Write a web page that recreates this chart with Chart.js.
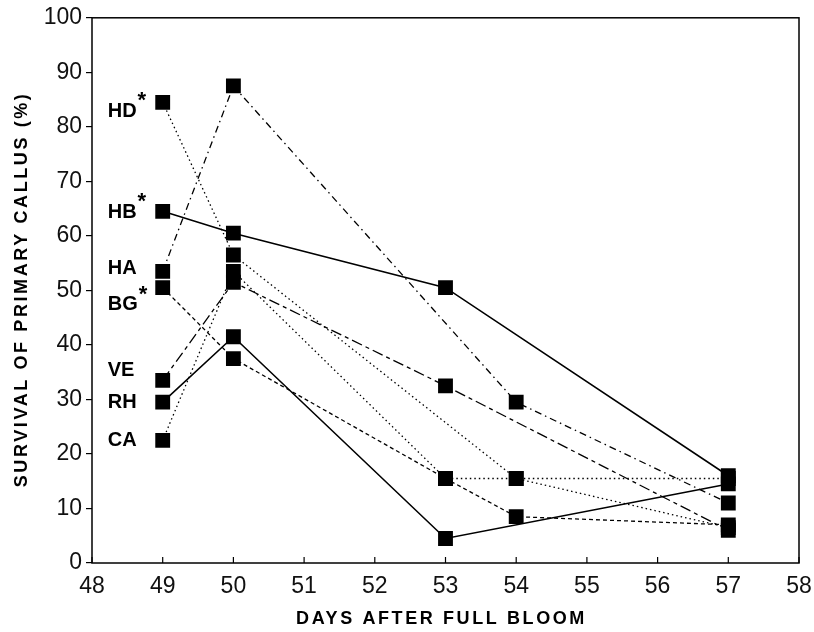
<!DOCTYPE html>
<html>
<head>
<meta charset="utf-8">
<script src="https://cdn.jsdelivr.net/npm/chart.js@4.4.1/dist/chart.umd.min.js"></script>
<style>
  html, body { margin: 0; padding: 0; background: #fff; }
  #wrap { width: 814px; height: 632px; }
</style>
</head>
<body>
<div id="wrap"><canvas id="callusChart" width="814" height="632"></canvas></div>
<script>
// days after full bloom at which survival was scored
const days = [49, 50, 53, 54, 57];
const seriesNames = ["HD", "HB", "HA", "BG", "VE", "RH", "CA"];
const starred = [true, true, false, true, false, false, false];

// survival of primary callus (%), null = not scored that day
const hdValues = [84.5, 56.5, null, 15.5, 6.5];
const hbValues = [64.5, 60.5, 50.5, null, 16];
const haValues = [53.5, 87.5, null, 29.5, 11];
const bgValues = [50.5, 37.5, 15.5, 8.5, 7];
const veValues = [33.5, 51.5, 32.5, null, 6];
const rhValues = [29.5, 41.5, 4.5, null, 14.5];
const caValues = [22.5, 53.5, 15.5, 15.5, 15.5];

const xTicks = [48, 49, 50, 51, 52, 53, 54, 55, 56, 57, 58];
const yTicks = [0, 10, 20, 30, 40, 50, 60, 70, 80, 90, 100];

const allValues = [hdValues, hbValues, haValues, bgValues, veValues, rhValues, caValues];
const dashes = [
    [1.5, 3],          // HD dotted
    [],                // HB solid
    [7, 4, 1.5, 4],    // HA dash-dot
    [4, 3],            // BG short dash
    [11, 4, 4, 4],     // VE long-short dash
    [],                // RH solid
    [1.5, 3]           // CA dotted
];
// vertical shift of each name label relative to its first marker
const labelShift = [9, 1, -3, 17, -10, 0, 0];

const datasets = allValues.map((vals, i) => ({
    label: seriesNames[i],
    data: days.map((d, j) => ({ x: d, y: vals[j] })),
    borderColor: "#000",
    borderWidth: dashes[i].length ? 1.3 : 1.6,
    borderDash: dashes[i],
    backgroundColor: "#000",
    pointStyle: "rect",
    pointRadius: 10.5,
    pointBorderWidth: 0,
    pointBackgroundColor: "#000",
    spanGaps: true,
    tension: 0
}));

const callusDecor = {
    id: "callusDecor",
    afterDatasetsDraw(chart) {
        const ctx = chart.ctx;
        ctx.save();
        ctx.fillStyle = "#000";
        chart.data.datasets.forEach((ds, i) => {
            const pt = chart.getDatasetMeta(i).data[0];
            const tx = pt.x - 55;
            const ty = pt.y + labelShift[i];
            ctx.font = "bold 20px 'Liberation Sans', Arial, sans-serif";
            ctx.textAlign = "left";
            ctx.textBaseline = "middle";
            ctx.fillText(ds.label, tx, ty);
            if (starred[i]) {
                const w = ctx.measureText(ds.label).width;
                ctx.font = "bold 22px 'Liberation Sans', Arial, sans-serif";
                ctx.textBaseline = "alphabetic";
                ctx.fillText("*", tx + w + 1, ty - 4);
            }
        });
        ctx.restore();
    },
    afterDraw(chart) {
        const { ctx, chartArea: a, scales } = chart;
        ctx.save();
        ctx.strokeStyle = "#000";
        ctx.lineWidth = 1.5;
        ctx.strokeRect(a.left, a.top, a.right - a.left, a.bottom - a.top);

        // inward ticks on the day axis
        ctx.lineWidth = 1.2;
        scales.x.ticks.forEach(t => {
            const px = scales.x.getPixelForValue(t.value);
            ctx.beginPath();
            ctx.moveTo(px, a.bottom);
            ctx.lineTo(px, a.bottom - 6);
            ctx.stroke();
        });

        // axis titles, spaced out like the original
        ctx.fillStyle = "#000";
        ctx.font = "bold 18px 'Liberation Sans', Arial, sans-serif";
        ctx.letterSpacing = "2.6px";
        ctx.textAlign = "center";
        ctx.textBaseline = "middle";
        ctx.fillText("DAYS AFTER FULL BLOOM", (a.left + a.right) / 2 - 4, 619);

        ctx.translate(22, (a.top + a.bottom) / 2);
        ctx.rotate(-Math.PI / 2);
        ctx.fillText("SURVIVAL OF PRIMARY CALLUS (%)", 1, 0);
        ctx.restore();
    }
};

new Chart(document.getElementById("callusChart"), {
    type: "line",
    data: { datasets: datasets },
    options: {
        responsive: false,
        animation: false,
        layout: { padding: { top: 15, right: 15, left: 0, bottom: 0 } },
        plugins: {
            legend: { display: false },
            tooltip: { enabled: false }
        },
        scales: {
            x: {
                type: "linear",
                min: 48,
                max: 58,
                afterBuildTicks: scale => { scale.ticks = xTicks.map(v => ({ value: v })); },
                afterFit: scale => {
                    scale.height = 69;
                    scale.paddingLeft = 0;
                    scale.paddingRight = 0;
                },
                grid: { drawOnChartArea: false, drawTicks: false },
                border: { display: false },
                ticks: {
                    color: "#111",
                    padding: 10,
                    maxRotation: 0,
                    font: { family: "'Liberation Sans', Arial, sans-serif", size: 23 }
                }
            },
            y: {
                min: 0,
                max: 100,
                afterBuildTicks: scale => { scale.ticks = yTicks.map(v => ({ value: v })); },
                afterFit: scale => { scale.width = 92; },
                grid: { drawOnChartArea: false, tickLength: 6, color: "#000", lineWidth: 1.2 },
                border: { display: false },
                ticks: {
                    color: "#111",
                    padding: 4,
                    font: { family: "'Liberation Sans', Arial, sans-serif", size: 23 }
                }
            }
        }
    },
    plugins: [callusDecor]
});
</script>
</body>
</html>
